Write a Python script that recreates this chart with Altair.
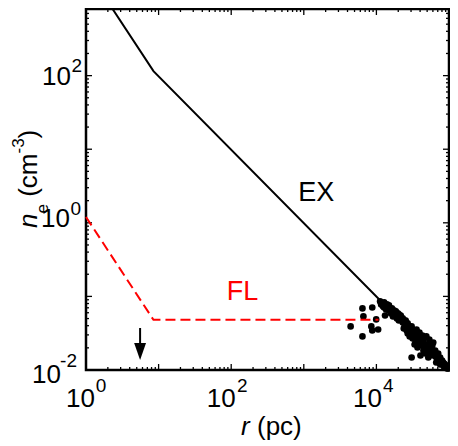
import altair as alt
import pandas as pd

# ---------------- data ----------------
# model curves (r in pc, n_e in cm^-3)
ex_r = [1.0, 8.5, 1.0e5]
ex_n = [2850.0, 115.0, 0.0100]
fl_r = [1.0, 8.5, 1.07e4]
fl_n = [1.20, 0.048, 0.048]

obs_logr = [
    3.645, 3.808, 3.821, 3.808, 3.930, 3.943, 3.943, 4.024, 3.997, 4.079, 4.119, 4.485, 4.607,
    4.051, 4.079, 4.106, 4.119, 4.146, 4.160, 4.173, 4.133, 4.187, 4.092,
    4.201, 4.214, 4.228, 4.241, 4.255, 4.268, 4.282, 4.295, 4.309, 4.322, 4.336, 4.350, 4.228, 4.282, 4.309,
    4.363, 4.377, 4.390, 4.404, 4.404, 4.417, 4.431, 4.431, 4.444, 4.458, 4.472, 4.485, 4.485, 4.499, 4.377,
    4.512, 4.526, 4.539, 4.553, 4.566, 4.580, 4.593, 4.607, 4.621, 4.634, 4.526, 4.566,
    4.648, 4.661, 4.675, 4.688, 4.702, 4.715, 4.729, 4.743, 4.756, 4.770, 4.783, 4.797, 4.715, 4.688,
    4.810, 4.824, 4.837, 4.851, 4.864, 4.878, 4.824,
    4.892, 4.905, 4.919, 4.932, 4.946, 4.959, 4.973, 4.878,
    4.065, 4.106, 4.146, 4.173, 4.201, 4.255, 4.295, 4.336, 4.363, 4.390, 4.417, 4.444, 4.472,
    4.499, 4.512, 4.539, 4.553, 4.580, 4.593, 4.621, 4.634, 4.648, 4.675, 4.702, 4.729, 4.743,
    4.770, 4.783, 4.810, 4.851, 4.878, 4.905, 4.932, 4.986,
]
obs_logn = [
    -1.408, -1.163, -1.272, -1.544, -1.408, -1.463, -1.150, -1.449, -1.313, -1.109, -1.259, -1.830, -1.803,
    -1.068, -1.095, -1.082, -1.122, -1.109, -1.150, -1.122, -1.177, -1.163, -1.136,
    -1.190, -1.163, -1.218, -1.190, -1.245, -1.204, -1.231, -1.272, -1.245, -1.299, -1.259, -1.313, -1.272, -1.299, -1.327,
    -1.299, -1.340, -1.381, -1.327, -1.422, -1.463, -1.367, -1.503, -1.408, -1.544, -1.449, -1.408, -1.503, -1.571, -1.435,
    -1.463, -1.517, -1.599, -1.449, -1.544, -1.639, -1.490, -1.571, -1.667, -1.531, -1.653, -1.694,
    -1.599, -1.707, -1.776, -1.544, -1.653, -1.735, -1.585, -1.803, -1.667, -1.735, -1.626, -1.789, -1.830, -1.762,
    -1.735, -1.816, -1.857, -1.776, -1.884, -1.830, -1.898,
    -1.871, -1.925, -1.898, -1.952, -1.925, -1.966, -1.980, -1.925,
    -1.109, -1.150, -1.163, -1.190, -1.231, -1.204, -1.231, -1.299, -1.354, -1.327, -1.395, -1.463, -1.503,
    -1.463, -1.544, -1.517, -1.612, -1.558, -1.626, -1.585, -1.653, -1.735, -1.653, -1.707, -1.680, -1.735,
    -1.667, -1.776, -1.816, -1.844, -1.884, -1.871, -1.912, -1.980,
]

# arrow annotation
arrow_r = [5.56]
arrow_n_top = [0.0372]
arrow_n_bottom = [0.0219]
arrow_head_n = [0.0178]

# curve labels
label_text = ["EX", "FL"]
label_r = [1482.0, 143.0]
label_n = [2.58, 0.115]
label_color = ["black", "red"]

# tick labels
xtick_values = [1, 100, 10000]
xtick_exps = ["0", "2", "4"]
ytick_values = [0.01, 1, 100]
ytick_exps = ["-2", "0", "2"]

# ---------------- layout ----------------
W, H = 363, 361
YMAX = 804.0
FONT = "Liberation Sans"
MAJ, MINL = 6, 3

XS = alt.Scale(type="log", domain=[1, 1e5], nice=False)
YS = alt.Scale(type="log", domain=[0.01, YMAX], nice=False)


def X(f):
    return alt.X(f"{f}:Q", scale=XS, axis=None)


def Y(f):
    return alt.Y(f"{f}:Q", scale=YS, axis=None)


layers = []

# ticks (inward, mirrored on all four sides)
x_major = [10.0 ** k for k in range(0, 6)]
x_minor = [m * 10.0 ** k for k in range(0, 5) for m in range(2, 10)]
y_major = [10.0 ** k for k in range(-2, 3)]
y_minor = [m * 10.0 ** k for k in range(-2, 3) for m in range(2, 10) if m * 10.0 ** k < YMAX]

for vals, L in ((x_major, MAJ), (x_minor, MINL)):
    d = pd.DataFrame({"v": vals})
    layers.append(alt.Chart(d).mark_rule(color="black", strokeWidth=1.3).encode(
        x=X("v"), y=alt.value(H), y2=alt.value(H - L)))
    layers.append(alt.Chart(d).mark_rule(color="black", strokeWidth=1.3).encode(
        x=X("v"), y=alt.value(0), y2=alt.value(L)))
for vals, L in ((y_major, MAJ), (y_minor, MINL)):
    d = pd.DataFrame({"v": vals})
    layers.append(alt.Chart(d).mark_rule(color="black", strokeWidth=1.3).encode(
        y=Y("v"), x=alt.value(0), x2=alt.value(L)))
    layers.append(alt.Chart(d).mark_rule(color="black", strokeWidth=1.3).encode(
        y=Y("v"), x=alt.value(W), x2=alt.value(W - L)))

# EX curve
ex_df = pd.DataFrame({"r": ex_r, "n": ex_n})
layers.append(alt.Chart(ex_df).mark_line(color="black", strokeWidth=2, clip=True).encode(
    x=X("r"), y=Y("n")))

# observed points
obs_df = pd.DataFrame({"lr": obs_logr, "ln": obs_logn})
obs_df["r"] = 10.0 ** obs_df["lr"]
obs_df["n"] = 10.0 ** obs_df["ln"]
layers.append(alt.Chart(obs_df).mark_circle(size=44, color="black", opacity=1).encode(
    x=X("r"), y=Y("n")))

# FL curve
fl_df = pd.DataFrame({"r": fl_r, "n": fl_n})
layers.append(alt.Chart(fl_df).mark_line(color="#ff0000", strokeWidth=2, strokeDash=[10, 5]).encode(
    x=X("r"), y=Y("n")))

# arrow
arr_df = pd.DataFrame({"r": arrow_r, "n1": arrow_n_top, "n2": arrow_n_bottom, "nh": arrow_head_n})
layers.append(alt.Chart(arr_df).mark_rule(color="black", strokeWidth=2).encode(
    x=X("r"), y=Y("n1"), y2=alt.Y2("n2:Q")))
layers.append(alt.Chart(arr_df).mark_point(
    shape="M-0.7,-1L0.7,-1L0,1Z", filled=True, size=289, color="black", opacity=1).encode(
    x=X("r"), y=Y("nh")))

# curve labels
lab_df = pd.DataFrame({"t": label_text, "r": label_r, "n": label_n, "c": label_color})
layers.append(alt.Chart(lab_df).mark_text(font=FONT, fontSize=27, align="center", baseline="middle").encode(
    x=X("r"), y=Y("n"), text="t:N", color=alt.Color("c:N", scale=None)))

# x tick labels: "10" plus superscript
x_dx = [(-5.5, 15), (-10, 11), (-9, 12)]
for v, e, (d10, dsup) in zip(xtick_values, xtick_exps, x_dx):
    d = pd.DataFrame({"v": [v], "b": ["10"], "e": [e]})
    layers.append(alt.Chart(d).mark_text(font=FONT, fontSize=26, align="center", baseline="alphabetic", dx=d10).encode(
        x=X("v"), y=alt.value(398), text="b:N"))
    layers.append(alt.Chart(d).mark_text(font=FONT, fontSize=19, align="center", baseline="alphabetic", dx=dsup).encode(
        x=X("v"), y=alt.value(383), text="e:N"))

# y tick labels
y_pos = [(-25, 13, -9, -3), (-16, 4, -5, -8), (-15, 9.5, -4, -3.5)]
for v, e, (x10, dy10, xsup, dysup) in zip(ytick_values, ytick_exps, y_pos):
    d = pd.DataFrame({"v": [v], "b": ["10"], "e": [e]})
    layers.append(alt.Chart(d).mark_text(font=FONT, fontSize=26, align="right", baseline="alphabetic", dy=dy10).encode(
        y=Y("v"), x=alt.value(x10), text="b:N"))
    layers.append(alt.Chart(d).mark_text(font=FONT, fontSize=19, align="right", baseline="alphabetic", dy=dysup).encode(
        y=Y("v"), x=alt.value(xsup), text="e:N"))

# axis titles built from pieces (italic symbol, sub/superscripts)
dummy = pd.DataFrame({"a": [0]})


def piece(txt, x, y, size, style="normal", angle=0):
    return alt.Chart(dummy).mark_text(
        text=txt, font=FONT, fontSize=size, fontStyle=style, align="left",
        baseline="alphabetic", angle=angle, color="black").encode(
        x=alt.value(x), y=alt.value(y))


layers += [
    piece("r", 155, 426, 26, "italic"),
    piece("(pc)", 171, 426, 26),
    piece("n", -49, 219, 26, "italic", 270),
    piece("e", -38, 204.5, 17, "normal", 270),
    piece("(cm", -49, 187.8, 26, "normal", 270),
    piece("-3", -62, 144.5, 17, "normal", 270),
    piece(")", -49, 129.4, 26, "normal", 270),
]

chart = alt.layer(*layers).properties(
    width=W, height=H,
    autosize=alt.AutoSizeParams(type="none"),
    padding={"left": 78, "top": 1, "right": 1, "bottom": 72},
    background="white",
).configure_view(stroke="black", strokeWidth=2.5)

chart.save("out.html", embed_options={"renderer": "svg", "actions": False})
